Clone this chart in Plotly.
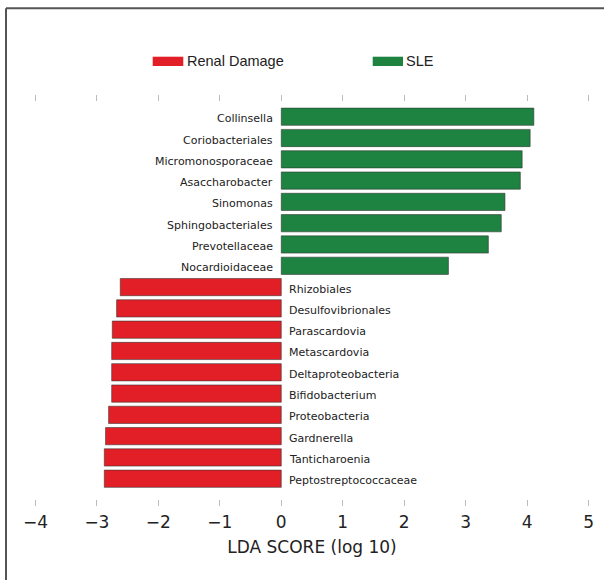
import plotly.graph_objects as go

# ---- data ----
sle_names = ["Collinsella", "Coriobacteriales", "Micromonosporaceae", "Asaccharobacter",
             "Sinomonas", "Sphingobacteriales", "Prevotellaceae", "Nocardioidaceae"]
sle_scores = [4.11, 4.05, 3.92, 3.89, 3.64, 3.58, 3.37, 2.72]

renal_names = ["Rhizobiales", "Desulfovibrionales", "Parascardovia", "Metascardovia",
               "Deltaproteobacteria", "Bifidobacterium", "Proteobacteria", "Gardnerella",
               "Tanticharoenia", "Peptostreptococcaceae"]
renal_scores = [-2.62, -2.68, -2.75, -2.76, -2.76, -2.76, -2.81, -2.86, -2.88, -2.88]

groups = ["Renal Damage", "SLE"]
x_ticks = [-4, -3, -2, -1, 0, 1, 2, 3, 4, 5]
x_title = "LDA SCORE (log 10)"

RED = "#E21F26"
GREEN = "#1E8241"

# ---- layout geometry (pixels) ----
W, H = 605, 581
ML, MR, MT, MB = 33, 14, 95, 75
PW, PH = W - ML - MR, H - MT - MB

def px(xp):
    return (xp - ML) / PW

def py(yp):
    return (H - MB - yp) / PH

order = sle_names + renal_names

fig = go.Figure()
fig.add_trace(go.Bar(x=sle_scores, y=sle_names, orientation="h", width=0.81,
                     marker=dict(color=GREEN, line=dict(color="rgba(50,50,50,0.7)", width=0.8)),
                     showlegend=False, name="SLE"))
fig.add_trace(go.Bar(x=renal_scores, y=renal_names, orientation="h", width=0.81,
                     marker=dict(color=RED, line=dict(color="rgba(50,50,50,0.7)", width=0.8)),
                     showlegend=False, name="Renal Damage"))

annotations = []
for n in sle_names:
    annotations.append(dict(x=0, y=n, xref="x", yref="y", text=n, showarrow=False,
                            xanchor="right", yanchor="middle", xshift=-6, yshift=-2,
                            font=dict(family="DejaVu Sans", size=11, color="#222")))
for n in renal_names:
    annotations.append(dict(x=0, y=n, xref="x", yref="y", text=n, showarrow=False,
                            xanchor="left", yanchor="middle", xshift=6, yshift=-2,
                            font=dict(family="DejaVu Sans", size=11, color="#222")))

# legend (custom)
annotations.append(dict(x=px(185), y=py(61.5), xref="paper", yref="paper", text=groups[0],
                        showarrow=False, xanchor="left", yanchor="middle",
                        font=dict(family="Liberation Sans", size=14.5, color="#222")))
annotations.append(dict(x=px(404), y=py(61.5), xref="paper", yref="paper", text=groups[1],
                        showarrow=False, xanchor="left", yanchor="middle",
                        font=dict(family="Liberation Sans", size=14.5, color="#222")))

shapes = [
    dict(type="rect", xref="paper", yref="paper", x0=px(152.7), x1=px(183.3),
         y0=py(66), y1=py(56.7), fillcolor=RED, line=dict(width=0)),
    dict(type="rect", xref="paper", yref="paper", x0=px(372.7), x1=px(403),
         y0=py(66), y1=py(56.7), fillcolor=GREEN, line=dict(width=0)),
    # outer frame (left and top only)
    dict(type="line", xref="paper", yref="paper", x0=px(6), x1=px(6),
         y0=py(580), y1=py(8.3), line=dict(color="#555", width=2)),
    dict(type="line", xref="paper", yref="paper", x0=px(6), x1=px(604),
         y0=py(8.3), y1=py(8.3), line=dict(color="#555", width=2)),
]

fig.update_layout(
    width=W, height=H,
    margin=dict(l=ML, r=MR, t=MT, b=MB, pad=0),
    paper_bgcolor="white", plot_bgcolor="white",
    barmode="overlay",
    annotations=annotations, shapes=shapes,
    xaxis=dict(range=[-4.04, 5.04], tickvals=x_ticks, ticks="inside", ticklen=6, tickwidth=1,
               tickcolor="#bbb", mirror="ticks", showline=False, showgrid=False,
               zeroline=False, ticklabelstandoff=4,
               tickfont=dict(family="DejaVu Sans", size=17, color="#222"),
               title=dict(text=x_title, font=dict(family="DejaVu Sans", size=17, color="#222"),
                          standoff=10)),
    yaxis=dict(type="category", categoryorder="array", categoryarray=order,
               range=[len(order) - 1 + 1.28, -1.02], showticklabels=False, ticks="",
               showgrid=False, zeroline=False, showline=False),
)

fig.write_html("out.html", config={"displayModeBar": False},
               post_script="document.body.style.margin='0';document.body.style.overflow='hidden';")
